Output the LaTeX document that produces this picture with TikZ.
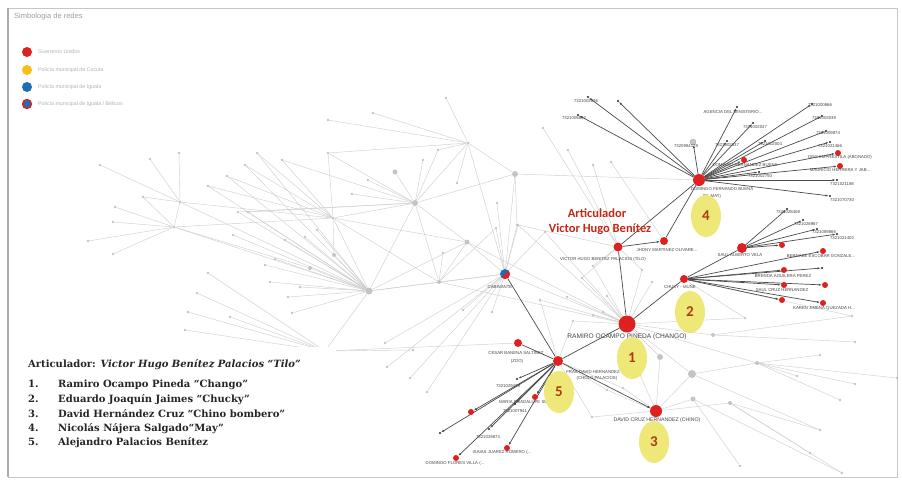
\documentclass[tikz,border=0pt]{standalone}
\usepackage{fontspec}
\setmainfont{DejaVu Serif}
\newfontfamily\lsans{Liberation Sans}
\newfontfamily\carl{Carlito}
\usetikzlibrary{arrows.meta,shapes.geometric}
\definecolor{gured}{RGB}{222,32,32}
\definecolor{coyel}{RGB}{250,190,20}
\definecolor{igblue}{RGB}{30,110,180}
\definecolor{hlyel}{RGB}{238,232,120}
\definecolor{numred}{RGB}{176,58,24}
\definecolor{artred}{RGB}{196,40,20}
\definecolor{gline}{RGB}{208,208,208}
\definecolor{gnode}{RGB}{196,196,196}
\definecolor{dline}{RGB}{75,75,75}
\definecolor{lbltxt}{RGB}{70,70,70}
\pgfdeclarelayer{bgl}
\pgfdeclarelayer{edges}
\pgfsetlayers{bgl,edges,main}
\tikzset{
 rn/.style={circle,fill=gured,inner sep=0pt,minimum size=#1},
 rn/.default=6pt,
 bn/.style={circle,fill=black!85,inner sep=0pt,minimum size=2.4pt},
 gn/.style={circle,fill=gnode,inner sep=0pt,minimum size=#1},
 gn/.default=2.6pt,
 gedge/.style={draw=gline,line width=0.45pt},
 dedge/.style={draw=dline,line width=0.7pt},
 darr/.style={dedge,-{Latex[length=3pt,width=2.2pt]}},
 lbl/.style={font=\lsans\fontsize{4.3}{4.3}\selectfont,text=lbltxt,inner sep=0pt},
 hlnum/.style={ellipse,fill=hlyel,inner sep=0pt,minimum width=30pt,minimum height=42pt,font=\carl\bfseries\fontsize{15}{15}\selectfont,text=numred},
 legtxt/.style={anchor=west,font=\lsans\fontsize{5.3}{5.3}\selectfont,text=gray!60,inner sep=0pt},
 legdot/.style={circle,inner sep=0pt,minimum size=10pt},
 listtxt/.style={anchor=base west,font=\bfseries\fontsize{10}{10}\selectfont,text=black!85,inner sep=0pt}
}
\begin{document}
\begin{tikzpicture}[x=1pt,y=-1pt]
\useasboundingbox (0,0) rectangle (902,480);
\begin{pgfonlayer}{bgl}
\fill[white] (0,0) rectangle (902,480);
\draw[gray!45,line width=0.8pt] (8,8) rectangle (897,477);
\draw[gray!65,line width=1.8pt] (8,8) -- (8,477);
\end{pgfonlayer}

% legend
\node[anchor=west,font=\lsans\fontsize{7.5}{8}\selectfont,text=gray!75,inner sep=0pt] (legt) at (14,17) {Simbologia de redes};
\node[legdot,fill=gured] (lg1) at (27,52) {};
\node[legdot,fill=coyel] (lg2) at (27,70) {};
\node[legdot,fill=igblue] (lg3) at (27,87) {};
\node[legdot,fill=igblue,draw=gured,line width=1.3pt,minimum size=9pt] (lg4) at (27,104) {};
\node[legtxt] (lt1) at (38,52) {Guerreros Unidos};
\node[legtxt] (lt2) at (38,70) {Policía municipal de Cocula};
\node[legtxt] (lt3) at (38,87) {Policía municipal de Iguala};
\node[legtxt] (lt4) at (38,104) {Policía municipal de Iguala / Bélicos};

% main nodes
\node[rn=12pt] (dom) at (699,180) {};
\node[rn=9pt] (vic) at (618,247) {};
\node[rn=8pt] (jho) at (664,241) {};
\node[circle,fill=igblue,inner sep=0pt,minimum size=10pt] (cab) at (505,274) {};
\fill[gured] (cab.center) ++(45:5pt) arc[start angle=45,end angle=-135,radius=5pt] -- cycle;
\node[rn=17pt] (ram) at (627,324) {};
\node[rn=8pt] (chu) at (684,279) {};
\node[rn=10pt] (sau) at (742,248) {};
\node[rn=10pt] (al5) at (558,361) {};
\node[rn=8pt] (ces) at (518,343) {};
\node[rn=12pt] (dav) at (656,411) {};

% grey hubs
\foreach \n/\x/\y/\s in {g1/468/143/3pt, g2/415/203/6pt, g3/333/218/3pt, g4/180/202/3pt, g5/174/227/3pt, g6/369/291/7pt, g7/439/282/4pt, g8/515/174/6pt, g10/467/242/5pt, g11/334/255/4pt, g12/310/268/4pt, g13/325/351/4pt, g14/757/363/4pt, g15/692/374/8pt, g16/660/357/6pt, g17/713/335/4pt, g18/730/403/4pt, g19/693/399/5pt}
  \node[gn=\s] (\n) at (\x,\y) {};

% grey leaves
\foreach \n/\x/\y in {l1/100/165, l2/150/159, l3/179/153, l4/143/197, l5/115/207, l6/113/222, l7/88/241, l8/113/254,
  l9/257/153, l10/245/165, l11/227/176, l12/208/186, l13/282/160, l14/328/153, l15/352/194, l16/368/180, l18/423/160, l19/438/150, l20/457/183, l21/373/113, l22/328/120, l23/446/98, l24/497/203, l25/496/228, l26/517/225,
  l27/443/253, l28/317/230, l29/305/237, l30/285/240, l31/233/235, l32/238/212, l33/248/212, l34/265/265, l35/275/259, l36/270/282, l37/300/287, l38/288/297, l39/292/313,
  l40/208/273, l41/197/293, l42/188/312, l43/230/317, l44/185/330,
  l45/463/310, l46/492/312, l47/387/367, l48/410/378, l49/427/392, l50/385/343,
  l51/593/266, l52/582/278, l53/567/297, l54/642/270, l55/652/282, l56/607/296, l57/593/315, l58/540/300, l59/545/232, l60/518/225,
  l61/573/321, l62/603/312, l63/607/390, l64/623/388, l65/592/417, l66/640/375, l67/413/350,
  l68/852/316, l69/855/342, l70/820/355, l71/897/378, l72/855/384, l73/840/400, l74/820/430, l75/810/453, l76/740/466, l77/842/473, l78/797/376, l79/745/318,
  l81/543/128, l82/593/165, l83/611/162, l84/568/150}
  \node[gn] (\n) at (\x,\y) {};
\node[gn=5pt] (l17) at (395,172) {};

\begin{pgfonlayer}{edges}
\foreach \a/\b in {g4/l1,g4/l2,g4/l3,g4/l4,g4/g5,g4/g3,g4/g6,
  g5/l4,g5/l5,g5/l6,g5/l7,g5/l8,g5/g6,g5/g3,
  g3/l9,g3/l10,g3/l11,g3/l12,g3/l13,g3/l14,g3/g2,g3/g6,g3/g7,
  g6/l9,g6/l10,g6/l11,g6/l12,g6/l28,g6/l29,g6/l30,g6/l31,g6/l34,g6/l35,g6/l36,g6/l37,g6/l38,g6/l39,g6/l32,g6/l33,g6/g2,g6/g7,g6/g13,g6/g10,
  g2/l14,g2/l15,g2/l16,g2/l17,g2/l18,g2/l19,g2/l32,g2/l33,g2/g1,g2/g7,g2/g10,g2/l13,
  g1/l14,g1/l20,g1/l21,g1/l22,g1/l23,g1/g8,g1/cab,g1/l19,
  g8/g2,g8/cab,g8/dom,g8/l26,
  g7/cab,g7/l27,g7/l25,
  g11/g6,g11/g3,g12/g6,g12/g5,
  g10/cab,g10/g7,g10/g3,
  g13/l40,g13/l41,g13/l42,g13/l43,g13/l44,g13/ces,g13/l67,
  cab/l45,cab/l46,cab/l47,cab/l48,cab/l49,cab/l50,cab/l24,cab/l25,cab/l26,cab/g6,cab/l59,cab/l60,
  ram/l51,ram/l52,ram/l53,ram/l54,ram/l55,ram/l56,ram/l57,ram/l58,ram/l61,ram/l62,ram/l66,ram/g16,ram/g15,ram/g17,ram/g14,ram/l79,ram/cab,ram/g10,ram/l59,ram/l60,ram/g7,
  g14/l70,g14/l71,g14/l72,g14/l73,g14/l78,g14/g15,
  g17/l68,g17/l69,g15/dav,g15/l74,g16/dav,
  g18/dav,g18/l74,g18/l75,g18/l77,g19/dav,g19/l76,g19/l77,
  dav/l63,dav/l64,dav/l65,dav/l66,
  al5/l63,al5/l64,al5/l65,al5/l61,al5/l58,
  vic/l51,vic/l52,vic/l54,vic/l60,vic/l81,vic/l82,jho/l83,vic/l84,chu/l68,chu/l79}
  \draw[gedge] (\a) -- (\b);

% dark edges
\foreach \a/\b in {dom/vic,dom/jho,vic/ram,ram/chu,chu/sau,ram/al5,cab/al5,al5/ces}
  \draw[dedge] (\a) -- (\b);
\draw[darr] (vic) -- (jho);
\draw[darr] (al5) -- (dav);
\end{pgfonlayer}

% Domingo leaves
\foreach \n/\x/\y in {d1/588/97, d2/578/115, d3/618/101, d4/737/107, d5/753/123, d6/727/141, d8/765/141, d10/759/172, d11/812/104, d12/822/116, d13/826/131, d14/830/142, d17/837/180, d18/830/196}
  \node[bn] (\n) at (\x,\y) {};
\node[gn=6pt,draw=gray!70,line width=0.3pt] (d7) at (693,142) {};
\node[rn] (d9) at (744,160) {};
\node[rn] (d15) at (838,153) {};
\node[rn] (d16) at (840,166) {};
% Saul leaves
\foreach \n/\x/\y in {s1/787/209, s2/803/220, s3/817/229, s4/837/234}
  \node[bn] (\n) at (\x,\y) {};
\node[rn] (s5) at (782,245) {};
% Chucky leaves
\node[rn] (c1) at (823,251) {};
\node[bn] (c2) at (822,268) {};
\node[rn] (c3) at (784,270) {};
\node[rn] (c4) at (784,285) {};
\node[rn] (c5) at (825,285) {};
\node[rn] (c6) at (782,300) {};
\node[rn] (c7) at (823,303) {};
% Node 5 leaves
\node[bn] (n1) at (517,379) {};
\node[rn] (n2) at (535,397) {};
\node[bn] (n3) at (515,404) {};
\node[rn] (n4) at (471,412) {};
\node[bn] (n5) at (440,433) {};
\node[bn] (n6) at (489,429) {};
\node[rn] (n7) at (507,448) {};
\node[rn] (n8) at (456,458) {};

\begin{pgfonlayer}{edges}
\foreach \b in {d1,d2,d3,d4,d5,d6,d7,d8,d9,d10,d11,d12,d13,d14,d15,d16,d17,d18}
  \draw[darr] (dom) -- (\b);
\foreach \b in {s1,s2,s3,s4,s5}
  \draw[darr] (sau) -- (\b);
\foreach \b in {c1,c2,c3,c4,c5,c6,c7}
  \draw[darr] (chu) -- (\b);
\foreach \b in {n1,n2,n3,n4,n5,n6,n7,n8}
  \draw[darr] (al5) -- (\b);
\end{pgfonlayer}

% labels
\foreach \n/\x/\y/\t in {td1/586/101/{7321002836}, td2/574/118/{7321005892}, td4/733/112/{AGENCIA DEL MINISTERIO...}, td5/755/127/{7321002047}, td6/727/145/{7321002837}, td7/686/146/{7320984178}, td8/770/144/{7321002004}, td9/745/165/{DOMINGO HERNANDEZ BUENA}, td10/760/176/{7321002750}, td11/820/105/{7321000866}, td12/824/118/{7321003039}, td13/828/133/{7321009874}, td14/830/146/{7321021466}, td15/840/157/{ISSS EMPRESTILA (ABONADO)}, td16/840/170/{MAURICIO HERRERA Y JAB...}, td17/842/184/{7321021188}, td18/842/200/{7321070730},
  tdom/722/189/{DOMINGO FERNANDO BUENA}, tdom2/712/196/{(EL MAY)},
  ts1/788/212/{7321028408}, ts2/806/224/{7321026967}, ts3/824/232/{7321089866}, ts4/842/238/{7321021402}, tsau/740/255/{SAUL ALBERTO VELA},
  tc1/821/256/{BERNABE ESCOBAR GONZALE...}, tc3/783/276/{BRENDA AGUILERA PEREZ}, tc5/782/290/{SAUL CRUZ HERNANDEZ}, tc7/824/308/{KAREN JIMENA QUEZADA H...}, tchu/680/287/{CHUKY - MUÑE},
  tn1/508/386/{7321029428}, tn2/529/402/{MARIA GUADALUPE SUAREZ}, tn3/515/411/{7321007941}, tn6/488/437/{7321029874}, tn7/502/452/{ISAIAS JUAREZ ROMERO (...}, tn8/455/463/{DOMINGO FLORES VILLA (...},
  tvic/603/259/{VICTOR HUGO BENITEZ PALACIOS (TILO)}, tjho/667/250/{JHONY MARTINEZ OLIVARE...}, tcab/500/287/{CABINANTE},
  tal5a/593/372/{FRAS DAVID HERNANDEZ}, tal5b/597/378/{(CHOLO PALACIOS)}, tces/516/353/{CESAR BANENA SALTINEZ}, tces2/517/361/{(ZOO)}}
  \node[lbl] (\n) at (\x,\y) {\t};
\node[lbl,font=\lsans\fontsize{6.6}{6.6}\selectfont] (tram) at (627,337) {RAMIRO OCAMPO PINEDA (CHANGO)};
\node[lbl,font=\lsans\fontsize{5.2}{5.2}\selectfont] (tdav) at (657,420) {DAVID CRUZ HERNANDEZ (CHINO)};

% highlight ellipses
\node[hlnum] (y4) at (706,216) {4};
\node[hlnum] (y2) at (690,312) {2};
\node[hlnum] (y1) at (632,358) {1};
\node[hlnum] (y5) at (559,392) {5};
\node[hlnum] (y3) at (654,442) {3};

% articulador
\node[font=\carl\bfseries\fontsize{12.5}{12.5}\selectfont,text=artred,inner sep=0pt] (art1) at (597,213) {Articulador};
\node[font=\carl\bfseries\fontsize{12.5}{12.5}\selectfont,text=artred,inner sep=0pt] (art2) at (600,229) {Victor Hugo Benítez};

% bottom-left box
\fill[white] (20,347) rectangle (336,472);
\node[listtxt] (ah) at (28,367) {Articulador: \itshape Victor Hugo Benítez Palacios “Tilo”};
\foreach \i/\y/\t in {1/387/{Ramiro Ocampo Pineda “Chango”}, 2/402/{Eduardo Joaquín Jaimes “Chucky”}, 3/417/{David Hernández Cruz “Chino bombero”}, 4/431/{Nicolás Nájera Salgado“May”}, 5/445/{Alejandro Palacios Benítez}}
{
  \node[listtxt] (ln\i) at (28,\y) {\i.};
  \node[listtxt] (lname\i) at (58,\y) {\t};
}
\end{tikzpicture}
\end{document}
